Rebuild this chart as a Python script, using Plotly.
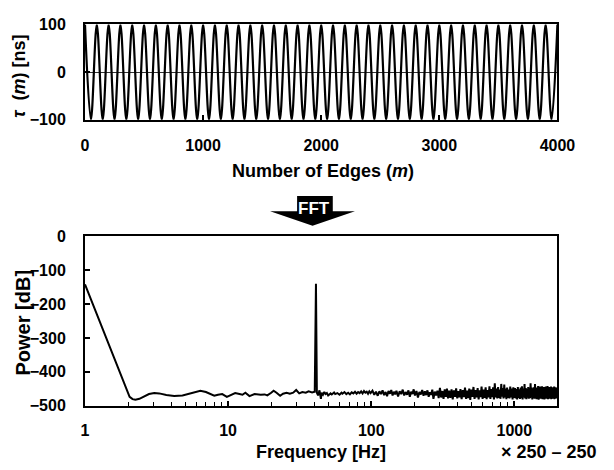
import plotly.graph_objects as go

W, H = 614, 470

# ---------------- data ----------------
# top panel: extremes of tau(m) (half-period 50 edges)
edge_m = [0, 50, 100, 150, 200, 250, 300, 350, 400, 450, 500, 550, 600, 650, 700, 750,
          800, 850, 900, 950, 1000, 1050, 1100, 1150, 1200, 1250, 1300, 1350, 1400, 1450,
          1500, 1550, 1600, 1650, 1700, 1750, 1800, 1850, 1900, 1950, 2000, 2050, 2100,
          2150, 2200, 2250, 2300, 2350, 2400, 2450, 2500, 2550, 2600, 2650, 2700, 2750,
          2800, 2850, 2900, 2950, 3000, 3050, 3100, 3150, 3200, 3250, 3300, 3350, 3400,
          3450, 3500, 3550, 3600, 3650, 3700, 3750, 3800, 3850, 3900, 3950, 4000]
tau_ns = [100, -100] * 40 + [100]

# bottom panel: FFT power spectrum
freq_hz = [1.0, 1.2, 1.4, 1.6, 1.8, 1.95, 2.05, 2.15, 2.25, 2.4, 2.6, 2.8, 3.05, 3.3, 3.7,
           4.2, 4.8, 5.4, 6.0, 6.4, 7.0, 7.6, 8.0, 8.5, 9.1, 9.8, 10.4, 11.2, 12.0, 12.6,
           13.2, 14.1, 15.3, 16.2, 16.9, 18.0, 18.8, 20.0, 20.8, 21.8, 23.1, 24.2, 25.6,
           27.0, 28.5, 29.9, 31.4, 33.0, 34.9, 36.5, 38.6, 40.3, 40.9, 41.1, 41.7, 42.5,
           43.5, 44.5,
           45, 46, 47, 48, 49, 50, 52, 53, 55, 56, 58, 60, 62, 63, 65, 67, 69, 71, 73, 75,
           77, 79, 81, 83, 85, 87, 89, 91, 93, 95, 97, 99,
           102, 105, 108, 111, 114, 117, 120, 123, 126, 129, 132, 135, 138, 141, 144, 147,
           150, 154, 158, 162, 166, 170, 174, 178, 182, 186, 190, 194, 198, 202, 207, 212,
           217, 222, 227, 232, 237, 242, 247, 252, 257, 262, 267, 272, 278, 284, 290, 296,
           302, 308, 314, 320, 326, 332, 338, 344, 350, 357, 364, 371, 378, 385, 392, 399,
           406, 413, 420, 428, 436, 444, 452, 460, 468, 476, 484, 492, 500, 509, 518, 527,
           536, 545, 554, 563, 572, 581, 590, 600, 610, 620, 630, 640, 650, 660, 670, 680,
           690, 700, 710, 720, 730, 740, 750, 760, 770, 780, 790, 800, 810, 820, 830, 840,
           850, 860, 870, 880, 890, 900, 912, 924, 936, 948, 960, 972, 984, 996,
           1010, 1022, 1034, 1046, 1058, 1070, 1082, 1094, 1106, 1118, 1130, 1142, 1154,
           1166, 1178, 1190, 1202, 1214, 1226, 1238, 1250, 1262, 1274, 1286, 1298, 1310,
           1322, 1334, 1346, 1358, 1370, 1382, 1394, 1406, 1418, 1430, 1442, 1454, 1466,
           1478, 1490, 1502, 1514, 1526, 1538, 1550, 1562, 1574, 1586, 1598, 1610, 1622,
           1634, 1646, 1658, 1670, 1682, 1694, 1706, 1718, 1730, 1742, 1754, 1766, 1778,
           1790, 1802, 1814, 1826, 1838, 1850, 1862, 1874, 1886, 1898, 1910, 1922, 1934,
           1946, 1958, 1970, 1982, 1994, 2000]
power_db = [-142, -227, -299, -361, -416, -455, -474, -481, -483, -480, -472, -466, -463,
            -464, -469, -472, -470, -464, -458, -456, -460, -468, -471, -468, -466, -474,
            -470, -463, -466, -468, -462, -472, -466, -468, -468, -467, -470, -462, -456,
            -462, -471, -465, -462, -465, -462, -454, -464, -460, -462, -458, -461, -459,
            -146, -140, -462, -470, -455, -480,
            -462, -468, -460, -466, -463, -470, -464, -467, -461, -466, -463, -468, -462,
            -465, -460, -466, -462, -467, -461, -464, -459, -465, -460, -463, -458, -464,
            -457, -462, -459, -465, -458, -463,
            -456, -468, -459, -471, -458, -466, -455, -469, -460, -472, -457, -465, -454,
            -470, -459, -467, -456, -473, -458, -466, -453, -470, -460, -468, -455, -474,
            -459, -466, -452, -470, -457, -476, -460, -467, -454, -471, -458, -469, -455,
            -474, -461, -468, -453, -480, -459, -470, -456, -478,
            -448, -476, -457, -480, -452, -474, -450, -479, -456, -477, -452, -482, -455,
            -474, -449, -479, -457, -476, -451, -481, -454, -475, -447, -480, -456, -478,
            -450, -483, -453, -474, -445, -480, -454, -476, -448, -482, -455, -475, -444,
            -480, -453, -477, -446, -481, -454, -476, -443, -480, -451, -475, -446, -482,
            -434, -476, -450, -479, -445, -477, -453, -480, -436, -474, -448, -479, -438,
            -476, -450, -481, -447, -477, -453, -479, -444, -476, -450, -482, -446, -477,
            -448, -479, -451, -482, -445, -477, -452, -480, -447, -478, -443, -482, -450,
            -476, -436, -479, -448, -481, -451, -477, -445, -480, -449, -478, -434, -476,
            -447, -482, -450, -477, -446, -480, -436, -478, -449, -481, -447, -476, -442,
            -483, -450, -478, -444, -480, -448, -475, -443, -481, -450, -477, -445, -482,
            -449, -476, -444, -480, -447, -477, -442, -481, -450, -476, -445, -480, -448,
            -478, -444, -481, -450, -475, -446, -480, -448, -476, -444, -481, -449, -477,
            -446, -479, -448, -476, -452, -462]

top_xticks = [0, 1000, 2000, 3000, 4000]
top_yticks = [-100, 0, 100]
bot_xticks = [1, 10, 100, 1000]
bot_yticks = [0, -100, -200, -300, -400, -500]

# ---------------- layout helpers ----------------
def px(x):
    return x / W

def py(y):
    return 1 - y / H

FONT = "Liberation Sans, Arial, sans-serif"

fig = go.Figure()
fig.add_trace(go.Scatter(x=edge_m, y=tau_ns, mode="lines",
                         line=dict(color="black", width=2.2, shape="spline", smoothing=1),
                         xaxis="x", yaxis="y", showlegend=False, hoverinfo="skip"))
fig.add_trace(go.Scatter(x=freq_hz, y=power_db, mode="lines",
                         line=dict(color="black", width=2),
                         xaxis="x2", yaxis="y2", showlegend=False, hoverinfo="skip"))

tickfont = dict(family=FONT, size=16, color="black", weight="bold")
common = dict(showline=True, linecolor="black", linewidth=2, mirror=True,
              showgrid=False, ticks="inside", tickcolor="black", tickwidth=1.5,
              ticklen=5, tickfont=tickfont)

fig.update_layout(
    width=W, height=H, margin=dict(l=0, r=0, t=0, b=0),
    paper_bgcolor="white", plot_bgcolor="white",
    font=dict(family=FONT, color="black"),
    xaxis=dict(domain=[px(84), px(574)], range=[0, 4000], anchor="y",
               tickmode="array", tickvals=top_xticks, ticklabelstandoff=10,
               zeroline=False, **common),
    yaxis=dict(domain=[py(116), py(17)], range=[-100, 100], anchor="x",
               tickmode="array", tickvals=top_yticks, ticklabelstandoff=14,
               zeroline=True, zerolinecolor="#333333", zerolinewidth=1, **common),
    xaxis2=dict(domain=[px(84), px(574)], type="log", range=[0, 3.301], anchor="y2",
                tickmode="array", tickvals=bot_xticks, ticktext=[str(v) for v in bot_xticks],
                ticklabelstandoff=9, zeroline=False,
                minor=dict(ticks="inside", ticklen=4, tickcolor="black", tickwidth=1.2,
                           dtick="D1", showgrid=False),
                **common),
    yaxis2=dict(domain=[py(412.5), py(237)], range=[-500, 0], anchor="x2",
                tickmode="array", tickvals=bot_yticks, ticklabelstandoff=14,
                zeroline=False, **common),
)

ann = []
ann.append(dict(text="<i>τ</i>  (<i>m</i>) [ns]", x=px(16), y=py(71), textangle=-90,
                font=dict(family=FONT, size=18, weight="bold")))
ann.append(dict(text="Number of Edges (<i>m</i>)", x=px(331), y=py(169),
                font=dict(family=FONT, size=18, weight="bold")))
ann.append(dict(text="Power [dB]", x=px(20), y=py(326), textangle=-90,
                font=dict(family=FONT, size=20, weight="bold")))
ann.append(dict(text="Frequency [Hz]", x=px(329), y=py(461),
                font=dict(family=FONT, size=18, weight="bold")))
ann.append(dict(text="× 250 – 250", x=px(565), y=py(461),
                font=dict(family=FONT, size=18, weight="bold")))
ann.append(dict(text="FFT", x=px(322), y=py(208),
                font=dict(family=FONT, size=17, weight="bold", color="white")))
for a in ann:
    a.update(xref="paper", yref="paper", showarrow=False, xanchor="center", yanchor="middle")
fig.update_layout(annotations=ann)

# FFT block arrow
pts = [(304, 195), (341, 195), (341, 211), (364, 211), (320, 226), (276, 211), (304, 211)]
path = "M " + " L ".join(f"{px(x):.5f},{py(y):.5f}" for x, y in pts) + " Z"
fig.add_shape(type="path", path=path, xref="paper", yref="paper",
              fillcolor="black", line=dict(color="black", width=0), layer="below")

fig.write_html("out.html", config={"displayModeBar": False},
               post_script="document.body.style.margin='0px';")
